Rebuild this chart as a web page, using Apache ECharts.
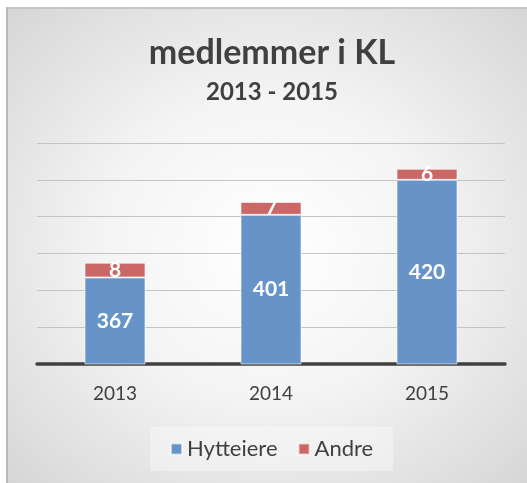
<!DOCTYPE html>
<html>
<head>
<meta charset="utf-8">
<script src="https://cdn.jsdelivr.net/npm/echarts@6/dist/echarts.min.js"></script>
<style>
  html, body { margin: 0; padding: 0; background: #fff; }
  #frame {
    position: absolute; left: 6px; top: 7px; width: 521px; height: 476px;
    border-left: 2px solid #b8b8b8; border-top: 2px solid #c4c4c4;
    background: radial-gradient(ellipse at 50% 50%, #ffffff 0%, #f4f4f4 45%, #d6d6d6 100%);
  }
  #main { position: absolute; left: 0; top: 0; width: 527px; height: 483px; }
</style>
</head>
<body>
<div id="frame"></div>
<div id="main"></div>
<script>
// data
var years = ['2013', '2014', '2015'];
var hytteiere = [367, 401, 420];
var andre = [8, 7, 6];

var myChart = echarts.init(document.getElementById('main'));

var labelStyle = {
    show: true,
    position: 'inside',
    color: '#fff',
    fontWeight: 'bold',
    fontSize: 21,
    fontFamily: 'Lato'
};

myChart.setOption({
    backgroundColor: 'transparent',
    title: {
        text: 'medlemmer i KL',
        subtext: '2013 - 2015',
        left: 267,
        textAlign: 'center',
        top: 31,
        itemGap: 10,
        textStyle: { fontSize: 34, fontWeight: 'bold', color: '#404040', fontFamily: 'Lato' },
        subtextStyle: { fontSize: 24, fontWeight: 'bold', color: '#404040', fontFamily: 'Lato' }
    },
    legend: {
        data: ['Hytteiere', 'Andre'],
        bottom: 12,
        left: 150,
        itemWidth: 11,
        itemHeight: 11,
        itemGap: 20,
        padding: [11, 20],
        backgroundColor: 'rgba(255,255,255,0.35)',
        icon: 'rect',
        textStyle: { fontSize: 22, color: '#404040', fontFamily: 'Lato' }
    },
    grid: { left: 37, right: 22, top: 143, bottom: 119 },
    xAxis: {
        type: 'category',
        data: years,
        axisLine: { lineStyle: { color: '#404040', width: 3.5 } },
        axisTick: { show: false },
        axisLabel: { fontSize: 19, color: '#404040', margin: 20, fontFamily: 'Lato' }
    },
    yAxis: {
        type: 'value',
        min: 320,
        max: 440,
        interval: 20,
        axisLabel: { show: false },
        axisLine: { show: false },
        axisTick: { show: false },
        splitLine: { lineStyle: { color: '#c4c4c4', width: 1 } }
    },
    series: [{
        name: 'Hytteiere',
        type: 'bar',
        stack: 'total',
        barWidth: 61,
        itemStyle: { color: '#6794c8', borderColor: 'rgba(255,255,255,0.6)', borderWidth: 1 },
        label: labelStyle,
        data: hytteiere
    }, {
        name: 'Andre',
        type: 'bar',
        stack: 'total',
        barWidth: 61,
        itemStyle: { color: '#cb6766', borderColor: 'rgba(255,255,255,0.6)', borderWidth: 1 },
        label: labelStyle,
        data: andre
    }]
});
</script>
</body>
</html>
